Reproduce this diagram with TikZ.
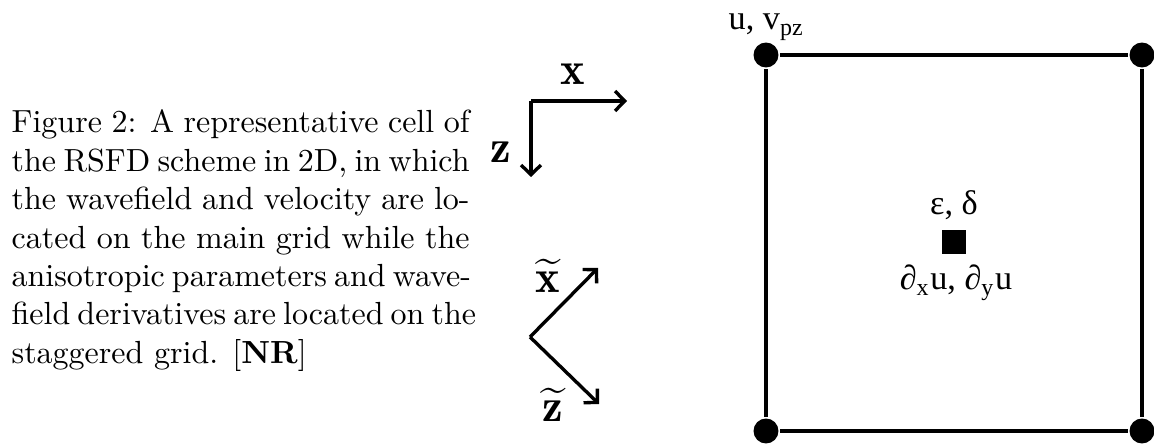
\documentclass[tikz,border=0pt]{standalone}
\usepackage{fontspec}
\usepackage{amsmath}
\newfontfamily\tnr{Liberation Serif}
\usetikzlibrary{arrows.meta}
\newcommand{\capline}[1]{\makebox[143.1pt][s]{#1}}
\begin{document}
\begin{tikzpicture}[x=0.3125pt,y=-0.3125pt,line width=1.05pt,
  dot/.style={circle,fill,inner sep=0pt,minimum size=7.8pt},
  ax/.style={-{Straight Barb[length=3pt,width=6.2pt]},line width=1.05pt},
  axlbl/.style={inner sep=0pt,anchor=base,font=\fontsize{14.5}{16}\selectfont},
  serif/.style={inner sep=0pt,font=\tnr\fontsize{10.7}{12}\selectfont}]
\useasboundingbox (0,0) rectangle (1154,445);
% caption
\node[anchor=base west,inner sep=0pt] (cap) at (10,133) {\parbox[t]{143.1pt}{\fontsize{10}{12}\selectfont
\capline{Figure 2: A representative cell of}\\
\capline{the RSFD scheme in 2D, in which}\\
\capline{the wavefield and velocity are lo-}\\
\capline{cated on the main grid while the}\\
\capline{anisotropic parameters and wave-}\\
\capline{field derivatives are located on the}\\
staggered grid. [\textbf{NR}]}};
% main axes
\coordinate (o) at (531,101);
\coordinate (xe) at (627,101);
\coordinate (ze) at (531,177);
\draw[ax] (o) -- (xe);
\draw[ax] (o) -- (ze);
\node[axlbl] (xl) at (573,85) {$\mathbf{x}$};
\node[axlbl] (zl) at (501,163) {$\mathbf{z}$};
% rotated axes
\coordinate (v) at (530,337);
\coordinate (xt) at (598,268);
\coordinate (zt) at (599,404);
\draw[ax] (v) -- (xt);
\draw[ax] (v) -- (zt);
\node[axlbl] (xtl) at (548,293) {$\widetilde{\mathbf{x}}$};
\node[axlbl] (ztl) at (553,422) {$\widetilde{\mathbf{z}}$};
% cell
\node[dot] (tl) at (766,55) {};
\node[dot] (tr) at (1142,55) {};
\node[dot] (bl) at (766,431) {};
\node[dot] (br) at (1142,431) {};
\draw (tl) -- (tr) -- (br) -- (bl) -- (tl);
\node[fill,inner sep=0pt,minimum size=7.5pt] (sq) at (954,242) {};
\node[serif,anchor=base west] (uv) at (727,30) {u, v\textsubscript{pz}};
\node[serif,anchor=base] (ed) at (954,215) {ε, δ};
\node[serif,anchor=base] (dd) at (956,290) {∂\textsubscript{x}u, ∂\textsubscript{y}u};
\end{tikzpicture}
\end{document}
